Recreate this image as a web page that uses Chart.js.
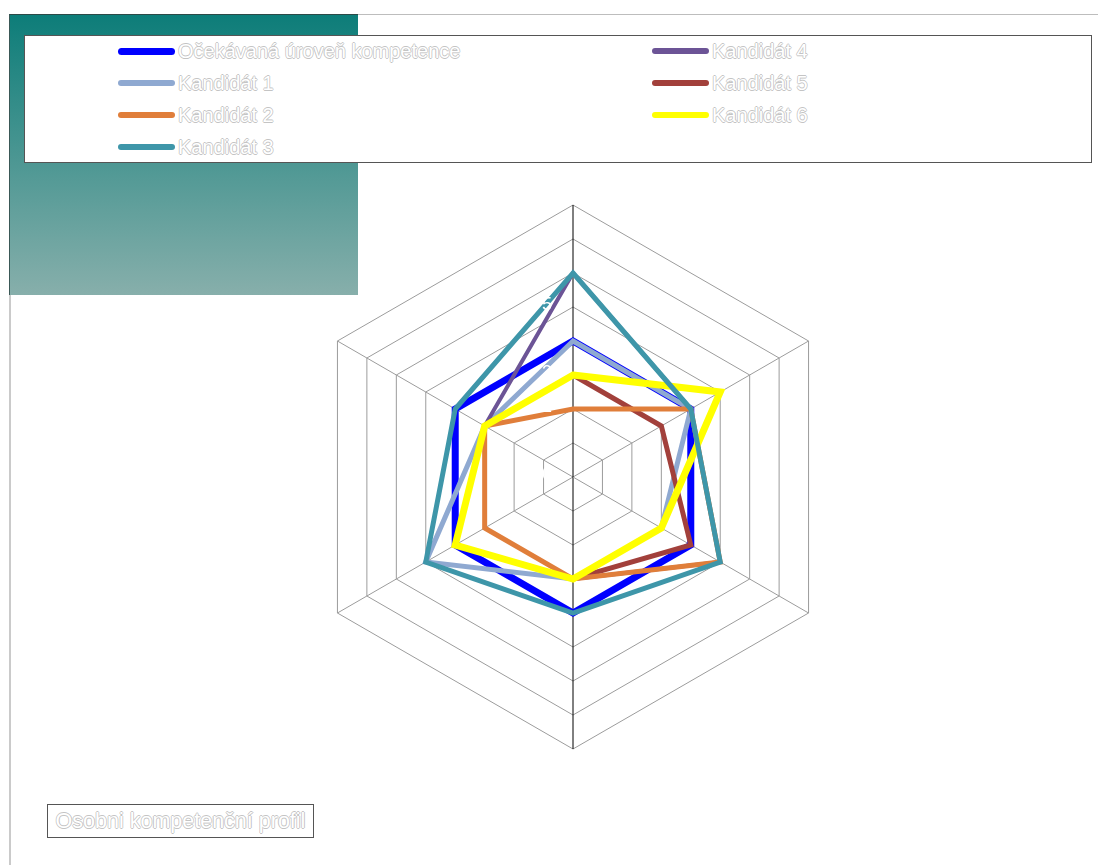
<!DOCTYPE html>
<html lang="cs">
<head>
<meta charset="utf-8">
<title>Osobni kompetenční profil</title>
<script src="https://cdn.jsdelivr.net/npm/chart.js@4.4.1/dist/chart.umd.min.js"></script>
<style>
  html, body { margin: 0; padding: 0; background: #fff; }
  body {
    width: 1098px; height: 865px; position: relative; overflow: hidden;
    font-family: "Liberation Sans", Arial, sans-serif;
  }
  .frame-top { position: absolute; left: 10px; top: 14px; width: 1088px; height: 1px; background: #bdbdbd; }
  .frame-left { position: absolute; left: 9px; top: 14px; width: 2px; height: 851px; background: #cacaca; }
  .band {
    position: absolute; left: 9px; top: 14px; width: 349px; height: 281px;
    background: linear-gradient(#0d7d79, #87afab);
    border-top: 1px solid #2c4a48; border-left: 1px solid #3a5856; box-sizing: border-box;
  }
  #legend {
    position: absolute; left: 24px; top: 35px; width: 1068px; height: 128px;
    box-sizing: border-box; border: 1px solid #555; background: #fff;
  }
  .item { position: absolute; height: 24px; display: flex; align-items: center; white-space: nowrap; }
  .swatch { width: 57px; border-radius: 4px; margin-right: 3px; }
  .outlined {
    color: #fff; font-size: 20px;
    text-shadow: 0.8px 0 0 #c4c4c4, -0.8px 0 0 #c4c4c4, 0 0.8px 0 #c4c4c4, 0 -0.8px 0 #c4c4c4;
  }
  #chartBox { position: absolute; left: 273px; top: 177px; width: 600px; height: 600px; }
  .title {
    position: absolute; left: 47px; top: 804px; width: 267px; height: 34px;
    border: 1px solid #555; box-sizing: border-box;
    display: flex; align-items: center; justify-content: center; font-size: 21.5px;
  }
</style>
</head>
<body>
<div class="frame-top"></div>
<div class="frame-left"></div>
<div class="band"></div>
<div id="legend"></div>
<div id="chartBox"><canvas id="profileChart" width="600" height="600"></canvas></div>
<div class="title outlined">Osobni kompetenční profil</div>

<script>
// kompetence (osy grafu)
const categories = ['Kompetence 1', 'Kompetence 2', 'Kompetence 3', 'Kompetence 4', 'Kompetence 5', 'Kompetence 6'];

const seriesNames = [
  'Očekávaná úroveň kompetence',
  'Kandidát 1', 'Kandidát 2', 'Kandidát 3',
  'Kandidát 4', 'Kandidát 5', 'Kandidát 6'
];

// hodnocení na stupnici 0-8
const expected   = [4, 4, 4, 4, 4, 4];
const kandidat1  = [4, 4, 3, 3, 5, 3];
const kandidat2  = [2, 4, 5, 3, 3, 3];
const kandidat3  = [6, 4, 5, 4, 5, 4];
const kandidat4  = [6, 4, 5, 3, 4, 3];
const kandidat5  = [3, 3, 4, 3, 4, 3];
const kandidat6  = [3, 5, 3, 3, 4, 3];

const scaleMin = 0;
const scaleMax = 8;
const scaleStep = 1;

const colors = ['#0000ff', '#8fa9d1', '#e07e3a', '#3e96a9', '#6c5496', '#a2403b', '#ffff00'];
const widths = [7, 5, 5, 5, 4, 5, 7];
// nižší order = kreslí se navrch
const drawOrder = [6, 5, 2, 0, 3, 4, 1];

const allSeries = [expected, kandidat1, kandidat2, kandidat3, kandidat4, kandidat5, kandidat6];

const datasets = allSeries.map((values, i) => ({
  label: seriesNames[i],
  data: values,
  borderColor: colors[i],
  backgroundColor: colors[i],
  borderWidth: widths[i],
  fill: false,
  order: drawOrder[i],
  pointRadius: 0,
  pointHoverRadius: 0
}));

// popisky stupnice vlevo od svislé osy
const tickLabels = {
  id: 'tickLabels',
  afterDatasetsDraw(chart) {
    const r = chart.scales.r;
    const ctx = chart.ctx;
    ctx.save();
    ctx.font = '18px "Liberation Sans", Arial, sans-serif';
    ctx.fillStyle = '#fff';
    ctx.textAlign = 'center';
    ctx.textBaseline = 'middle';
    r.ticks.forEach(t => {
      const d = r.getDistanceFromCenterForValue(t.value);
      ctx.fillText(t.label, r.xCenter - 26, r.yCenter - d - 2);
    });
    ctx.restore();
  }
};

const ctx = document.getElementById('profileChart').getContext('2d');
const profileChart = new Chart(ctx, {
  type: 'radar',
  data: {
    labels: categories,
    datasets: datasets
  },
  options: {
    responsive: false,
    animation: false,
    devicePixelRatio: 1,
    layout: { padding: 28 },
    elements: {
      line: { tension: 0, borderJoinStyle: 'miter', borderCapStyle: 'butt' }
    },
    plugins: {
      legend: { display: false },
      tooltip: { enabled: false },
      title: { display: false }
    },
    scales: {
      r: {
        min: scaleMin,
        max: scaleMax,
        beginAtZero: true,
        ticks: { display: false, stepSize: scaleStep },
        pointLabels: { display: false },
        grid: { color: '#9c9c9c', lineWidth: 1 },
        angleLines: {
          color: (c) => (c.index % 3 === 0 ? '#000' : '#9c9c9c'),
          lineWidth: 1
        }
      }
    }
  },
  plugins: [tickLabels]
});

// legenda ve dvou sloupcích
const legend = document.getElementById('legend');
profileChart.data.datasets.forEach((ds, i) => {
  const col = i < 4 ? 0 : 1;
  const row = col === 0 ? i : i - 4;
  const item = document.createElement('div');
  item.className = 'item';
  item.style.left = (col === 0 ? 93 : 627) + 'px';
  item.style.top = (3 + row * 32) + 'px';
  const sw = document.createElement('span');
  sw.className = 'swatch';
  sw.style.background = ds.borderColor;
  sw.style.height = (i === 0 ? 7 : 6) + 'px';
  const txt = document.createElement('span');
  txt.className = 'outlined';
  txt.textContent = ds.label;
  item.appendChild(sw);
  item.appendChild(txt);
  legend.appendChild(item);
});
</script>
</body>
</html>
